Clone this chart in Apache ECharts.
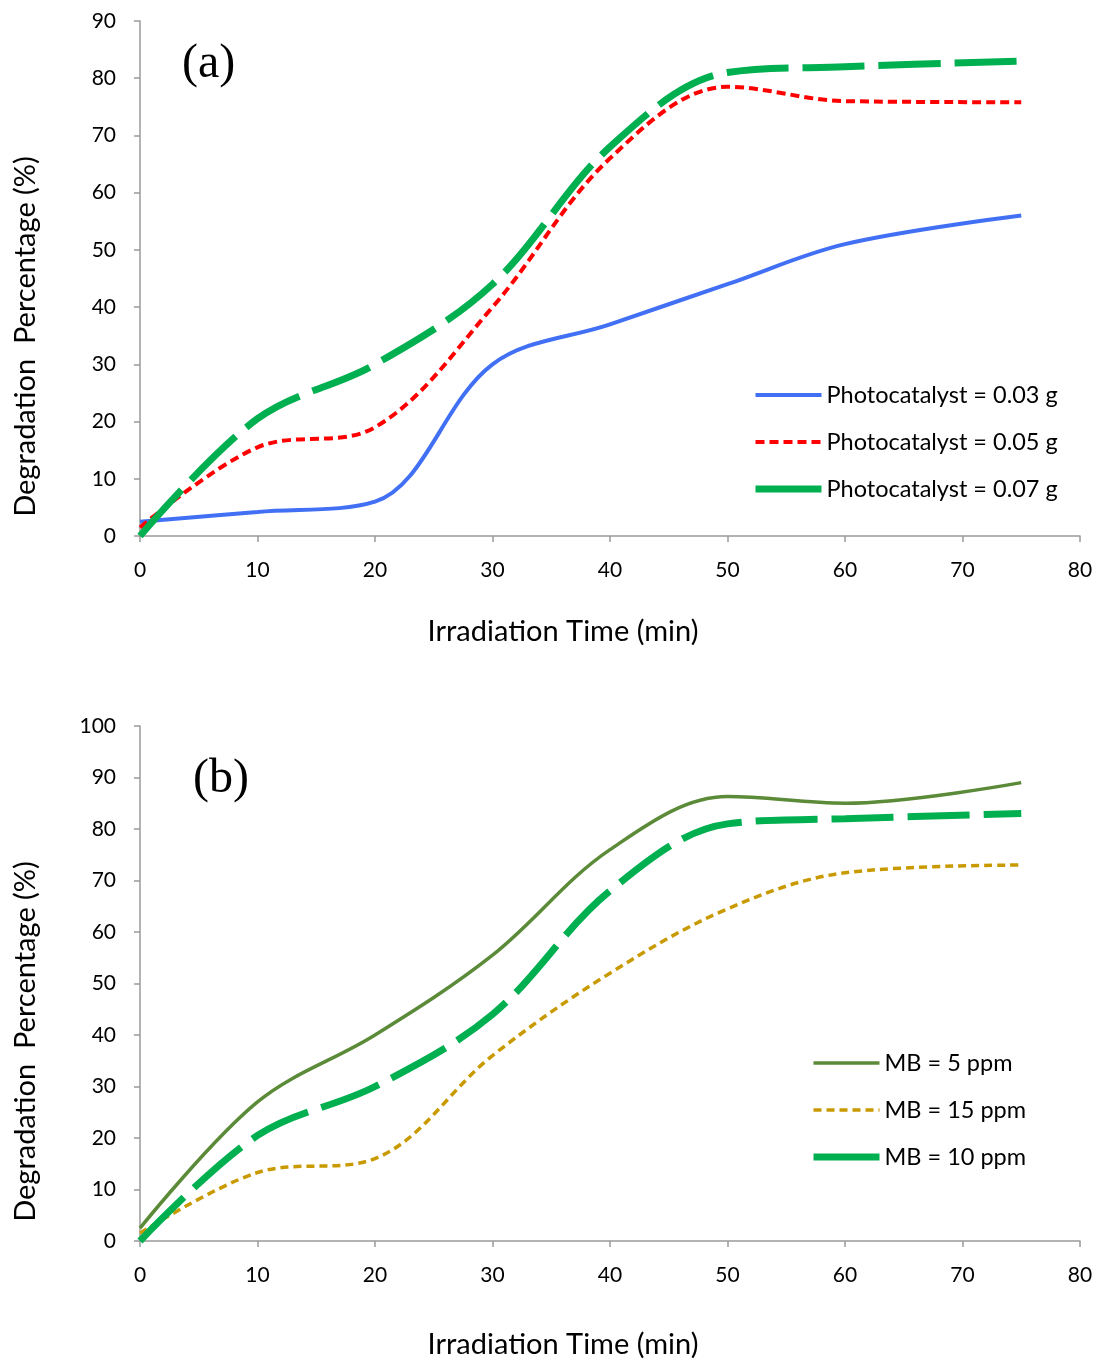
<!DOCTYPE html>
<html>
<head>
<meta charset="utf-8">
<script src="https://cdn.jsdelivr.net/npm/echarts@6/dist/echarts.min.js"></script>
<style>
  html, body { margin: 0; padding: 0; background: #fff; }
  #chart { width: 1100px; height: 1361px; }
</style>
</head>
<body>
<div id="chart"></div>
<script>
// irradiation times (min)
const times = [0, 10, 20, 30, 40, 50, 60, 75]

// panel (a): photocatalyst dose
const cat003 = [2.5, 4.2, 6, 30, 37, 44, 51, 56]
const cat005 = [1.5, 15.5, 19, 40, 66, 78.5, 76, 75.8]
const cat007 = [0, 20.5, 30, 44, 68, 81, 82, 83]

// panel (b): MB concentration
const mb5 = [2.5, 27, 40, 55.5, 76, 86.3, 85, 89]
const mb15 = [1.5, 13.3, 16, 36, 52, 64.5, 71.5, 73]
const mb10 = [0, 20.5, 30, 44, 68, 81, 82, 83]

const pairs = (ys) => times.map((t, i) => [t, ys[i]])

const font = 'Lato, "Open Sans", sans-serif'
const axisGray = '#9a9a9a'

function xAxisFor(idx, gap) {
  return {
    type: 'value',
    gridIndex: idx,
    min: 0,
    max: 80,
    interval: 10,
    name: 'Irradiation Time (min)',
    nameLocation: 'middle',
    nameGap: gap,
    nameTextStyle: { fontSize: 29, fontFamily: font, color: '#000', padding: [0, 94, 0, 0] },
    axisLine: { show: true, lineStyle: { color: axisGray, width: 1.5 } },
    axisTick: { show: true, length: 6, lineStyle: { color: axisGray, width: 1.5 } },
    axisLabel: { margin: 24, fontSize: 21, fontFamily: font, color: '#000' },
    splitLine: { show: false },
  }
}

function yAxisFor(idx, max) {
  return {
    type: 'value',
    gridIndex: idx,
    min: 0,
    max: max,
    interval: 10,
    name: 'Degradation  Percentage (%)',
    nameLocation: 'middle',
    nameGap: 100,
    nameTextStyle: { fontSize: 29, fontFamily: font, color: '#000', padding: [0, 116, 0, 0] },
    axisLine: { show: true, lineStyle: { color: axisGray, width: 1.5 } },
    axisTick: { show: true, length: 6, lineStyle: { color: axisGray, width: 1.5 } },
    axisLabel: { margin: 24, fontSize: 21, fontFamily: font, color: '#000' },
    splitLine: { show: false },
  }
}

function lineSeries(name, ys, idx, color, width, type) {
  return {
    name: name,
    type: 'line',
    xAxisIndex: idx,
    yAxisIndex: idx,
    data: pairs(ys),
    smooth: 0.35,
    symbol: 'none',
    lineStyle: { color: color, width: width, type: type, cap: 'butt' },
    itemStyle: { color: color },
  }
}

const legendBase = {
  orient: 'vertical',
  itemWidth: 66,
  itemHeight: 14,
  itemGap: 23,
  textStyle: { fontSize: 23.5, fontFamily: font, color: '#000' },
  itemStyle: { opacity: 0 },
  lineStyle: { width: 'inherit' },
}

const chart = echarts.init(document.getElementById('chart'))

chart.setOption({
  animation: false,
  grid: [
    { left: 140, top: 21, width: 940, height: 515 },
    { left: 140, top: 726, width: 940, height: 515 },
  ],
  xAxis: [xAxisFor(0, 81), xAxisFor(1, 89)],
  yAxis: [yAxisFor(0, 90), yAxisFor(1, 100)],
  legend: [
    Object.assign({}, legendBase, {
      left: 747,
      top: 378,
      data: [
        'Photocatalyst = 0.03 g',
        'Photocatalyst = 0.05 g',
        { name: 'Photocatalyst = 0.07 g', lineStyle: { type: 'solid', width: 7 } },
      ],
    }),
    Object.assign({}, legendBase, {
      left: 805,
      top: 1046,
      data: [
        'MB = 5 ppm',
        'MB = 15 ppm',
        { name: 'MB = 10 ppm', lineStyle: { type: 'solid', width: 7 } },
      ],
    }),
  ],
  graphic: [
    { type: 'text', left: 182, top: 40, style: { text: '(a)', fontSize: 48, fontFamily: '"Liberation Serif", serif', fill: '#000' } },
    { type: 'text', left: 193, top: 755, style: { text: '(b)', fontSize: 48, fontFamily: '"Liberation Serif", serif', fill: '#000' } },
  ],
  series: [
    lineSeries('Photocatalyst = 0.03 g', cat003, 0, '#4170F5', 4, 'solid'),
    lineSeries('Photocatalyst = 0.05 g', cat005, 0, '#FF0000', 4, [9, 5]),
    lineSeries('Photocatalyst = 0.07 g', cat007, 0, '#00B050', 7, [62, 14]),
    lineSeries('MB = 5 ppm', mb5, 1, '#5B8A38', 3.5, 'solid'),
    lineSeries('MB = 15 ppm', mb15, 1, '#C99A00', 3.5, [8, 5]),
    lineSeries('MB = 10 ppm', mb10, 1, '#00B050', 7, [62, 14]),
  ],
})
</script>
</body>
</html>
